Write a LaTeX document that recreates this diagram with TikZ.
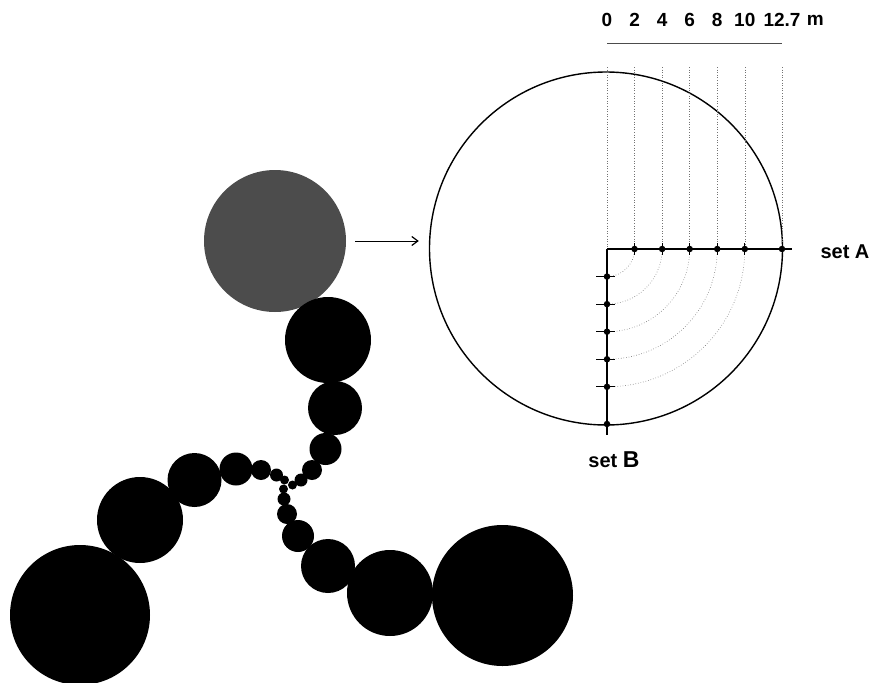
\documentclass[tikz,border=0pt]{standalone}
\usepackage{fontspec}
\setmainfont{Liberation Sans}
\usetikzlibrary{positioning,arrows.meta}

\begin{document}
\begin{tikzpicture}[
  x=1pt, y=-1pt,
  font=\fontsize{19}{22}\selectfont\bfseries,
  sample/.style={circle, fill=black!70, inner sep=0pt, minimum size=142},
  plot/.style={circle, draw=black, line width=1.4pt, inner sep=0pt, minimum size=353},
  grid/.style={dotted, draw=black!55, line width=0.6pt},
  axis/.style={line width=1.7pt},
  tick/.style={line width=0.7pt},
  pt/.style={circle, fill=black, inner sep=0pt, minimum size=6.5pt},
  arr/.style={-{Straight Barb[length=6pt,width=9pt,line width=1.2pt]}, line width=0.8pt},
  lbl/.style={inner sep=0pt}
]
\useasboundingbox (0,0) rectangle (876,683);
\def\u{13.78}

% sample and the three arms of balls
\node[sample] (grey) at (275,241) {};
\foreach \x/\y/\r in {328/340/43, 335/408/27, 325.5/449/16, 312/470/10, 301/480/6.5, 292.5/485/4.5,
    80/615/70, 140/520/43, 194.5/480/27, 236/469/16.5, 261/470/10, 276.5/475/6.5, 284.5/480/4.5,
    502.5/595.5/70.5, 390/593/43, 328/566/27, 298/536/16, 287/514/10, 284/499/6.5, 283.5/489/4.5}
  \fill (\x,\y) circle[radius=\r];

% enlarged ball with the two sets of points
\node[plot] (ball) at (606,248.5) {};
\coordinate (O) at (607,249);
\draw[arr, shorten <=9pt, shorten >=10pt] (grey.east) -- (grey.east -| ball.west);

\foreach \d [count=\i] in {0,2,4,6,8,10,12.7} {
  \draw[grid] ({607+\d*\u},67) -- ({607+\d*\u},249);
  \node[lbl] (n\i) at ({607+\d*\u},20) {\d};
}
\node[lbl, right=6pt of n7] (unit) {m};
\draw[line width=0.8pt, black!70] (607,43) -- (782,43);

\begin{scope}
  \clip (O) rectangle (800,440);
  \foreach \d in {2,4,6,8,10}
    \draw[grid] (O) circle[radius=\d*\u];
\end{scope}

\draw[axis] (O) -- (792,249);
\draw[axis] (O) -- (607,435);
\foreach \d in {2,4,6,8,10,12.7} {
  \draw[tick] ({607+\d*\u},243) -- ({607+\d*\u},255);
  \node[pt] at ({607+\d*\u},249) {};
  \draw[tick] (596,{249+\d*\u}) -- (615,{249+\d*\u});
  \node[pt] at (607,{249+\d*\u}) {};
}

\node[lbl, font=\fontsize{20}{24}\selectfont\bfseries] (setA) at (845,252) {set A};
\node[lbl, font=\fontsize{20}{24}\selectfont\bfseries] (setB) at (614,460) {set \fontsize{23}{24}\selectfont B};
\end{tikzpicture}
\end{document}
